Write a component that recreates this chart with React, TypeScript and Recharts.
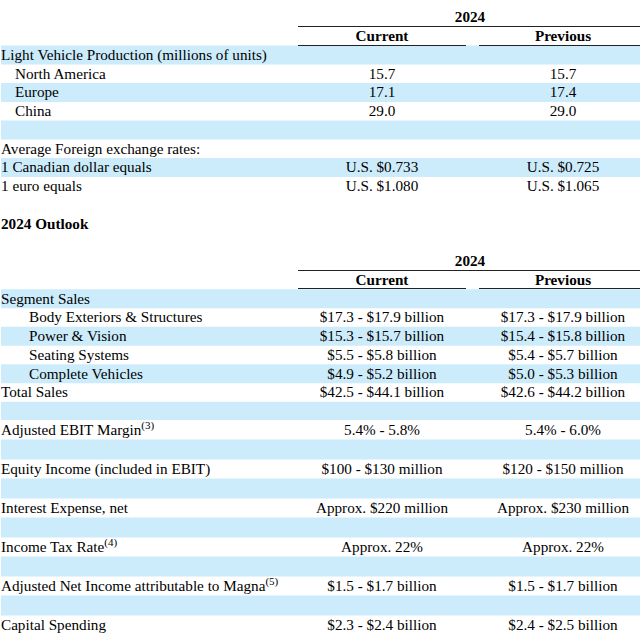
import React from 'react';
import { BarChart, Bar, XAxis, YAxis } from 'recharts';

// headers
const yearLabel = '2024';
const columnHeads = ['Current', 'Previous'];
const outlookTitle = '2024 Outlook';

// first table: production + fx rates
const productionLabels = [
  'Light Vehicle Production (millions of units)',
  'North America',
  'Europe',
  'China',
  '',
  'Average Foreign exchange rates:',
  '1 Canadian dollar equals',
  '1 euro equals',
];
const productionCurrent = ['', '15.7', '17.1', '29.0', '', '', 'U.S. $0.733', 'U.S. $1.080'];
const productionPrevious = ['', '15.7', '17.4', '29.0', '', '', 'U.S. $0.725', 'U.S. $1.065'];
const productionIndent = [0, 1, 1, 1, 0, 0, 0, 0];

// second table: outlook
const outlookLabels = [
  'Segment Sales',
  'Body Exteriors & Structures',
  'Power & Vision',
  'Seating Systems',
  'Complete Vehicles',
  'Total Sales',
  '',
  'Adjusted EBIT Margin',
  '',
  'Equity Income (included in EBIT)',
  '',
  'Interest Expense, net',
  '',
  'Income Tax Rate',
  '',
  'Adjusted Net Income attributable to Magna',
  '',
  'Capital Spending',
];
const outlookNotes = ['', '', '', '', '', '', '', '3', '', '', '', '', '', '4', '', '5', '', ''];
const outlookCurrent = [
  '', '$17.3 - $17.9 billion', '$15.3 - $15.7 billion', '$5.5 - $5.8 billion', '$4.9 - $5.2 billion',
  '$42.5 - $44.1 billion', '', '5.4% - 5.8%', '', '$100 - $130 million', '', 'Approx. $220 million',
  '', 'Approx. 22%', '', '$1.5 - $1.7 billion', '', '$2.3 - $2.4 billion',
];
const outlookPrevious = [
  '', '$17.3 - $17.9 billion', '$15.4 - $15.8 billion', '$5.4 - $5.7 billion', '$5.0 - $5.3 billion',
  '$42.6 - $44.2 billion', '', '5.4% - 6.0%', '', '$120 - $150 million', '', 'Approx. $230 million',
  '', 'Approx. 22%', '', '$1.5 - $1.7 billion', '', '$2.4 - $2.5 billion',
];
const outlookIndent = [0, 2, 2, 2, 2, 0, 0, 0, 0, 0, 0, 0, 0, 0, 0, 0, 0, 0];

const SERIF = '"Liberation Serif", "Times New Roman", serif';
const SHADE = '#ccecfc';
const INK = '#000';
const RULE = '#222';
const CURRENT_X = 382;
const PREVIOUS_X = 563;
const YEAR_X = 470;

type Kind = 'year' | 'heads' | 'title' | 'body' | 'spacer';
interface Row {
  key: string;
  kind: Kind;
  label: string;
  current: string;
  previous: string;
  indent: number;
  note: string;
  shade: number;
}

const makeRow = (key: string, kind: Kind, label = ''): Row => ({
  key, kind, label, current: '', previous: '', indent: 0, note: '', shade: 0,
});

// body rows alternate shading, starting shaded
const bodyRows = (
  prefix: string,
  labels: string[],
  current: string[],
  previous: string[],
  indent: number[],
  notes?: string[]
): Row[] =>
  labels.map((label, i) => ({
    key: `${prefix}-${i}`,
    kind: 'body',
    label,
    current: current[i],
    previous: previous[i],
    indent: indent[i],
    note: notes ? notes[i] : '',
    shade: i % 2 === 0 ? 1 : 0,
  }));

const production = bodyRows('prod', productionLabels, productionCurrent, productionPrevious, productionIndent);
const outlook = bodyRows('out', outlookLabels, outlookCurrent, outlookPrevious, outlookIndent, outlookNotes);

// the footnoted rows are a bit taller in the source, so the lower block gets its own band size
const upperRows: Row[] = [
  makeRow('y1', 'year', yearLabel),
  makeRow('h1', 'heads'),
  ...production,
  makeRow('s1', 'spacer'),
  makeRow('t1', 'title', outlookTitle),
  makeRow('s2', 'spacer'),
  makeRow('y2', 'year', yearLabel),
  makeRow('h2', 'heads'),
  ...outlook.slice(0, 7),
];
const lowerRows: Row[] = outlook.slice(7);

const RowTick = (props: any) => {
  const { y, payload, index, rows, band } = props;
  const value = payload ? payload.value : undefined;
  const row: Row | undefined =
    rows.find((r: Row) => r.key === value) ?? rows[payload?.index ?? index];
  if (!row) return <g />;
  const base = y + 5;
  const ruleY = Math.round(y + band / 2) - 0.5;
  const common = { fontFamily: SERIF, fontSize: 15.2, fill: INK };

  if (row.kind === 'year') {
    return (
      <g>
        <text {...common} x={YEAR_X} y={base} textAnchor="middle" fontWeight="bold">{row.label}</text>
        <line x1={298} x2={640} y1={ruleY} y2={ruleY} stroke={RULE} strokeWidth={1.2} />
      </g>
    );
  }
  if (row.kind === 'heads') {
    return (
      <g>
        <text {...common} x={CURRENT_X} y={base} textAnchor="middle" fontWeight="bold">{columnHeads[0]}</text>
        <text {...common} x={PREVIOUS_X} y={base} textAnchor="middle" fontWeight="bold">{columnHeads[1]}</text>
        <line x1={298} x2={466} y1={ruleY} y2={ruleY} stroke={RULE} strokeWidth={1.2} />
        <line x1={479} x2={640} y1={ruleY} y2={ruleY} stroke={RULE} strokeWidth={1.2} />
      </g>
    );
  }
  if (row.kind === 'title') {
    return <text {...common} x={1} y={base} fontWeight="bold">{row.label}</text>;
  }
  if (row.kind === 'spacer') return <g />;

  return (
    <g>
      <text {...common} x={1 + row.indent * 14} y={base}>
        {row.label}
        {row.note ? <tspan fontSize={11} dy={-6}>{`(${row.note})`}</tspan> : null}
      </text>
      {row.current ? <text {...common} x={CURRENT_X} y={base} textAnchor="middle">{row.current}</text> : null}
      {row.previous ? <text {...common} x={PREVIOUS_X} y={base} textAnchor="middle">{row.previous}</text> : null}
    </g>
  );
};

const TableBlock = ({ rows, band, top }: { rows: Row[]; band: number; top: number }) => (
  <div style={{ position: 'absolute', left: 0, top }}>
    <BarChart
      width={640}
      height={rows.length * band}
      data={rows}
      layout="vertical"
      margin={{ top: 0, right: 0, bottom: 0, left: 0 }}
      barCategoryGap={0}
    >
      <Bar dataKey="shade" fill={SHADE} isAnimationActive={false} />
      <XAxis type="number" dataKey="shade" domain={[0, 1]} hide />
      <YAxis
        type="category"
        dataKey="key"
        width={1}
        axisLine={false}
        tickLine={false}
        interval={0}
        tick={(p: any) => <RowTick {...p} rows={rows} band={band} />}
      />
    </BarChart>
  </div>
);

export default function App() {
  return (
    <div style={{ position: 'absolute', left: 0, top: 0, width: 640, height: 644, background: '#fff', overflow: 'hidden' }}>
      <TableBlock rows={upperRows} band={18.75} top={7.5} />
      <TableBlock rows={lowerRows} band={19.5} top={420} />
    </div>
  );
}
